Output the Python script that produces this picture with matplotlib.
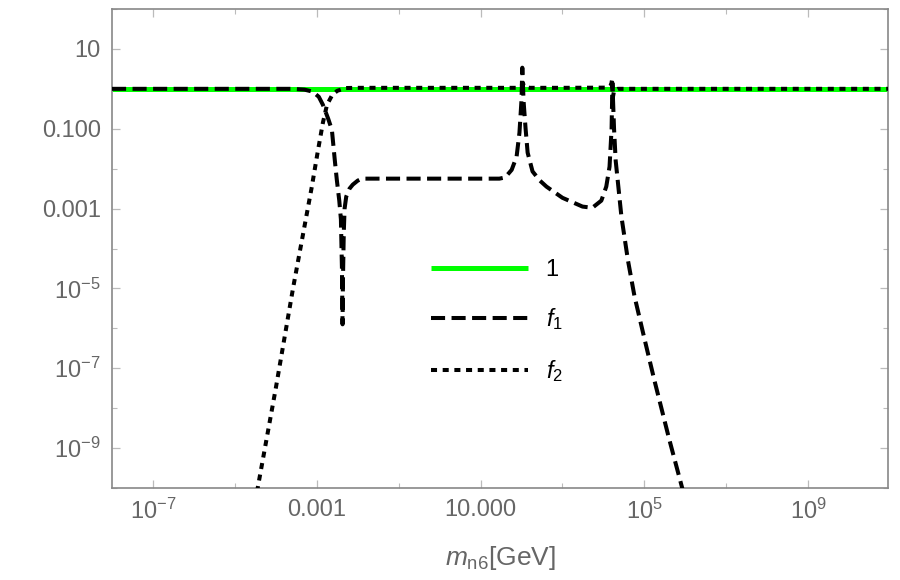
import numpy as np
import matplotlib
matplotlib.use("Agg")
import matplotlib.pyplot as plt
from matplotlib.ticker import FixedLocator, FixedFormatter, NullFormatter

plt.rcParams['font.family'] = ['Liberation Sans', 'DejaVu Sans']
plt.rcParams['mathtext.fontset'] = 'custom'
plt.rcParams['mathtext.rm'] = 'Liberation Sans'
plt.rcParams['mathtext.it'] = 'Liberation Sans:italic'
plt.rcParams['mathtext.bf'] = 'Liberation Sans:bold'

# ---- data (log10 values) ----
one_logx = [-8.0, 11.0]
one_logy = [0.0, 0.0]

f1_logx = [-8.0, -3.6, -3.3, -3.1, -2.95, -2.85, -2.72, -2.63, -2.56, -2.51, -2.45, -2.41,
           -2.385, -2.37, -2.36, -2.34, -2.32, -2.28, -2.20, -2.12, -2.0, -1.9, 1.0, 1.46,
           1.6, 1.76, 1.88, 1.95, 2.0, 2.02, 2.05, 2.1, 2.15, 2.27, 2.45, 2.61, 3.0, 3.49,
           3.73, 3.95, 4.07, 4.15, 4.2, 4.22, 4.26, 4.3, 4.37, 4.44, 4.6, 4.76, 5.0, 5.24,
           5.6, 5.95]
f1_logy = [0.0, 0.0, -0.02, -0.07, -0.2, -0.4, -0.75, -1.03, -1.78, -2.28, -2.8, -3.27,
           -4.5, -5.9, -4.8, -3.6, -3.0, -2.7, -2.5, -2.4, -2.3, -2.25, -2.25, -2.25,
           -2.22, -2.03, -1.7, -1.1, -0.28, 0.53, -0.3, -1.0, -1.6, -2.07, -2.3, -2.45, -2.73, -2.95,
           -2.98, -2.8, -2.45, -1.95, -1.0, 0.15, -1.0, -1.8, -2.5, -3.2, -4.3, -5.2, -6.25, -7.28,
           -8.75, -10.1]

f2_logx = [-4.46, -4.0, -3.58, -3.12, -2.98, -2.85, -2.75, -2.62, -2.5, -2.3, -2.0,
           1.0, 1.9, 2.0, 2.03, 2.08, 2.2, 3.0, 4.1, 4.19, 4.21, 4.23, 4.26, 4.35, 11.0]
f2_logy = [-10.1, -7.5, -5.0, -2.45, -1.6, -0.85, -0.4, -0.15, -0.05, 0.02, 0.025,
           0.025, 0.025, 0.07, 0.14, 0.05, 0.025, 0.025, 0.03, 0.1, 0.22, -0.22, -0.05, 0.0, 0.0]

x_major = [-7, -3, 1, 5, 9]
x_labels = ['$10^{-7}$', '0.001', '10.000', '$10^{5}$', '$10^{9}$']
x_minor = [-9, -5, -1, 3, 7]
y_major = [1, -1, -3, -5, -7, -9]
y_labels = ['10', '0.100', '0.001', '$10^{-5}$', '$10^{-7}$', '$10^{-9}$']
y_minor = [2, 0, -2, -4, -6, -8, -10]

legend_labels = ['1', '$f_1$', '$f_2$']
x_title = '$m_{\\mathrm{n6}}$[GeV]'

# ---- figure ----
fig = plt.figure(figsize=(9, 5.8), dpi=100)
ax = fig.add_axes([112/900, 1-488/580, (888-112)/900, (488-9)/580])

p = lambda a: 10.0 ** np.asarray(a, dtype=float)

l1, = ax.plot(p(one_logx), p(one_logy), color='#00ff00', lw=3.6, solid_capstyle='butt', zorder=2)
l2, = ax.plot(p(f1_logx), p(f1_logy), color='black', lw=2.9, dashes=(3.5, 1.6), zorder=3)
l3, = ax.plot(p(f2_logx), p(f2_logy), color='black', lw=2.9, dashes=(1.5, 1.4), zorder=3)

ax.set_xscale('log')
ax.set_yscale('log')
ax.set_xlim(10**-8.0, 10**10.95)
ax.set_ylim(1e-10, 10**2.0)

ax.xaxis.set_major_locator(FixedLocator(p(x_major)))
ax.xaxis.set_major_formatter(FixedFormatter(x_labels))
ax.xaxis.set_minor_locator(FixedLocator(p(x_minor)))
ax.xaxis.set_minor_formatter(NullFormatter())
ax.yaxis.set_major_locator(FixedLocator(p(y_major)))
ax.yaxis.set_major_formatter(FixedFormatter(y_labels))
ax.yaxis.set_minor_locator(FixedLocator(p(y_minor)))
ax.yaxis.set_minor_formatter(NullFormatter())

ax.tick_params(which='both', direction='in', top=True, right=True, color='#bbbbbb',
               labelcolor='#666666', labelsize=17)
ax.tick_params(which='major', length=6, width=0.9, pad=8)
ax.tick_params(which='minor', length=3.5, width=0.8)
for s in ax.spines.values():
    s.set_color('#888888')
    s.set_linewidth(1.2)

ax.set_xlabel(x_title, fontsize=19, color='#666666', labelpad=14)

leg = ax.legend([l1, l2, l3], legend_labels, loc='upper left',
                bbox_to_anchor=(431/900, 1-259/580), bbox_transform=fig.transFigure,
                frameon=False, fontsize=17, handlelength=4.1, handletextpad=0.75,
                labelspacing=1.08, borderpad=0, borderaxespad=0)
for t in leg.get_texts():
    t.set_color('black')

fig.savefig('out.png', dpi=100)
